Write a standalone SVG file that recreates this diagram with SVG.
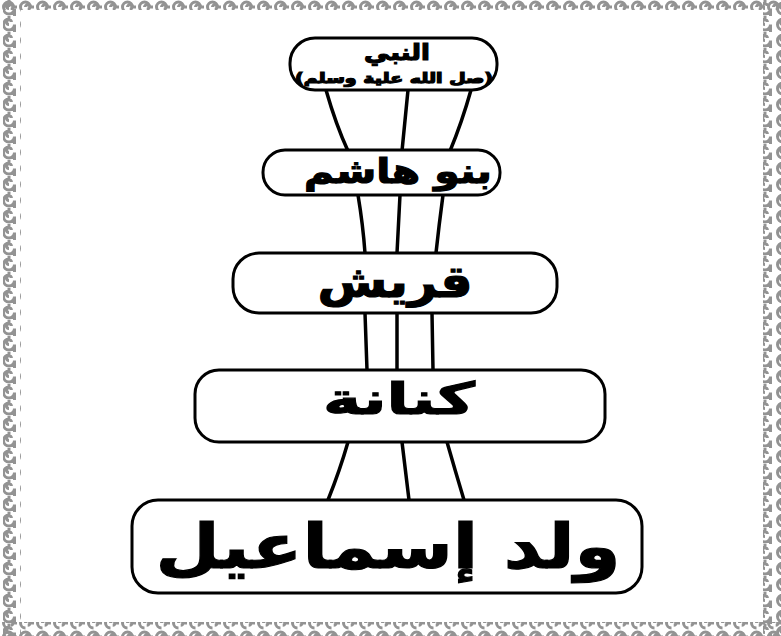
<svg xmlns="http://www.w3.org/2000/svg" width="781" height="636" viewBox="0 0 781 636">
<defs>
<style>
.node rect{fill:#fff;stroke:#000;stroke-width:3}
.node text{font-family:"DejaVu Sans",sans-serif;font-weight:bold;fill:#000;stroke:#000;stroke-width:1.2;text-anchor:middle;direction:rtl}
#connectors path{fill:none;stroke:#000;stroke-width:3.5;stroke-linecap:round}
.chain{fill:none;stroke:#939393;stroke-width:3}
</style>
<pattern id="ph" x="0" y="0" width="17" height="14" patternUnits="userSpaceOnUse">
<path class="chain" d="M13.5,7 A5,5 0 1 0 8.5,12 M8.5,7 A2.2,2.2 0 1 1 10.7,9.2 M13.5,7 L17,7"/>
</pattern>
<pattern id="pv" x="0" y="0" width="18" height="16" patternUnits="userSpaceOnUse">
<path class="chain" d="M9,3 A5.5,5.5 0 1 0 14.5,8.5 M9,8.5 A2.4,2.4 0 1 1 11.4,6.1 M9,3 L9,0 M14.5,8.5 L14.5,16"/>
</pattern>
</defs>
<rect x="0" y="0" width="781" height="636" fill="#fff"/>
<g id="border">
<rect x="0" y="-4" width="781" height="14" fill="url(#ph)"/>
<rect x="0" y="622" width="781" height="14" fill="url(#ph)"/>
<rect x="3" y="0" width="18" height="636" fill="url(#pv)"/>
<rect x="763" y="0" width="18" height="636" fill="url(#pv)"/>
</g>
<g id="connectors">
<path d="M326,90 Q336,125 348,151"/>
<path d="M408,90 L402,151"/>
<path d="M471,90 Q462,122 450,151"/>
<path d="M358,195 Q363,225 365,253"/>
<path d="M400,195 L397,253"/>
<path d="M443,195 Q439,225 436,253"/>
<path d="M365,313 L367,370"/>
<path d="M397,313 L397,370"/>
<path d="M432,313 L433,370"/>
<path d="M348,442 Q340,470 328,500"/>
<path d="M402,442 L409,500"/>
<path d="M447,442 Q455,470 464,500"/>
</g>
<g id="n1" class="node">
<rect x="290" y="38" width="207" height="52" rx="25"/>
<text x="397" y="60" font-size="22" textLength="66" lengthAdjust="spacingAndGlyphs">النبي</text>
<text x="394" y="83" font-size="14" textLength="198" lengthAdjust="spacingAndGlyphs">(صل الله علية وسلم)</text>
</g>
<g id="n2" class="node">
<rect x="263" y="150" width="237" height="45" rx="22"/>
<text x="398" y="183" font-size="34" textLength="188" lengthAdjust="spacingAndGlyphs">بنو هاشم</text>
</g>
<g id="n3" class="node">
<rect x="233" y="253" width="324" height="60" rx="26"/>
<text x="395" y="297" font-size="44" textLength="155" lengthAdjust="spacingAndGlyphs">قريش</text>
</g>
<g id="n4" class="node">
<rect x="195" y="370" width="410" height="72" rx="24"/>
<text x="399" y="414" font-size="44" textLength="152" lengthAdjust="spacingAndGlyphs">كنانة</text>
</g>
<g id="n5" class="node">
<rect x="132" y="500" width="510" height="93" rx="26"/>
<text x="388" y="568" font-size="62" textLength="465" lengthAdjust="spacingAndGlyphs">ولد إسماعيل</text>
</g>
</svg>
